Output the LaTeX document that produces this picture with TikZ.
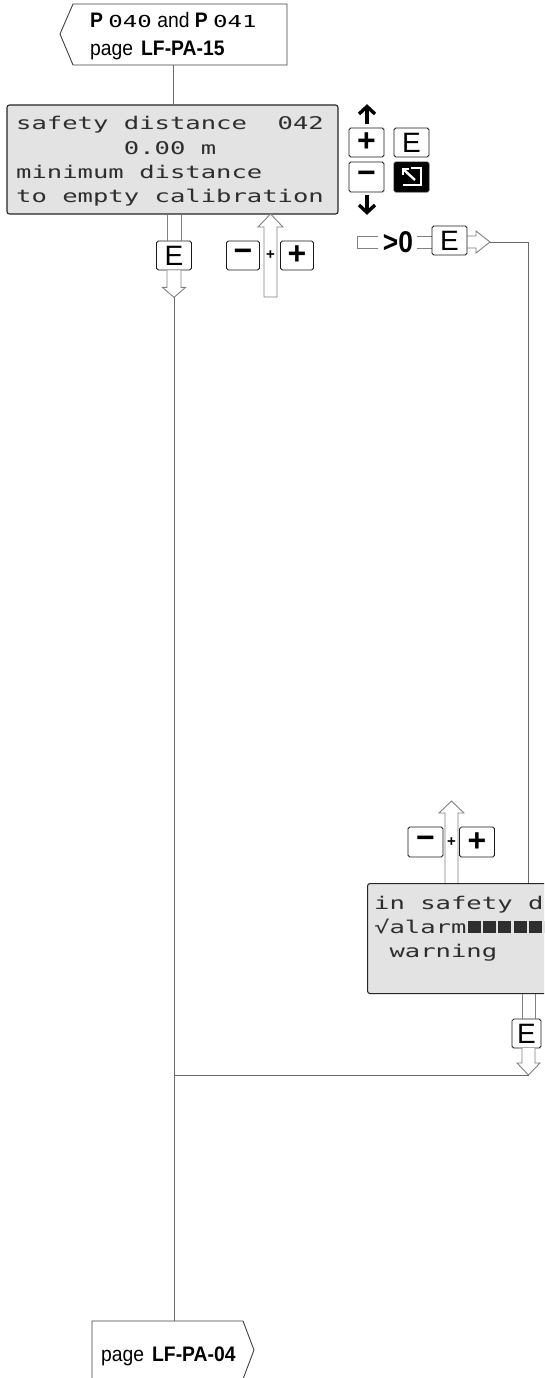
\documentclass[tikz,border=0pt]{standalone}
\usepackage{fontspec}
\setmainfont{Liberation Sans}
\newfontfamily\lcdfont[FakeStretch=1.46]{DejaVu Sans Mono}
\newfontfamily\condsans[FakeStretch=0.88]{Liberation Sans}
\newfontfamily\tagfont[FakeStretch=0.92]{Liberation Sans}
\usetikzlibrary{calc}
\definecolor{lcdgray}{HTML}{E3E3E3}
\definecolor{lcdtext}{HTML}{2E2E2E}
\definecolor{linegray}{HTML}{6A6A6A}
\definecolor{shaftgray}{HTML}{808080}
\begin{document}
\begin{tikzpicture}[x=1pt,y=-1pt,
 conn/.style={draw=linegray,line width=1pt},
 shaft/.style={draw=shaftgray,line width=0.9pt,fill=white,line join=miter},
 lcd/.style={draw=black!85,fill=lcdgray,rounded corners=2.5pt,line width=1.1pt,inner sep=0},
 lcdline/.style={anchor=base west,inner sep=0,text=lcdtext,font=\lcdfont\fontsize{17.5}{20}\selectfont},
 key/.style={draw=black!90,fill=white,rounded corners=1.8pt,line width=0.8pt,inner sep=0},
 tagbox/.style={draw=black!75,line width=0.9pt,fill=white},
 tagtext/.style={anchor=base west,inner sep=0,font=\tagfont\fontsize{21}{22}\selectfont},
 keysym/.style={font=\bfseries\fontsize{32}{32}\selectfont},
 keyE/.style={font=\fontsize{28}{28}\selectfont},
 smallplus/.style={inner sep=0,font=\bfseries\fontsize{15}{15}\selectfont},
 kbarrow/.style={line width=3.4pt,line join=miter},
]
\useasboundingbox (0,0) rectangle (544,1378);
\begin{scope}
\clip (0,0) rectangle (544,1378);

% ---------- top tag ----------
\draw[tagbox] (73,4) -- (287,4) -- (287,65) -- (73,65) -- (60,34) -- cycle;
\node[tagtext] (tagA1) at (90,28) {\textbf{P}~{\lcdfont\fontsize{16.5}{16}\selectfont 040}~and~\textbf{P}~{\lcdfont\fontsize{16.5}{16}\selectfont 041}};
\node[tagtext] (tagA2) at (90,56) {page\hspace{8pt}\textbf{LF-PA-15}};
\coordinate (tagAb) at (173.5,65);

% ---------- LCD A ----------
\node[lcd, minimum width=331, minimum height=109] (lcdA) at (172.5,159.5) {};
\node[lcdline] (lA1) at (16,130) {safety~distance~~042};
\node[lcdline] (lA2) at (16,154) {~~~~~~~0.00~m};
\node[lcdline] (lA3) at (16,178) {minimum~distance};
\node[lcdline] (lA4) at (16,202) {to~empty~calibration};
\draw[conn] (tagAb) -- (tagAb |- lcdA.north);

% ---------- keypad ----------
\node[key, minimum width=35, minimum height=29] (kplus) at (366.5,142.5) {};
\node[keysym] (kplusS) at (kplus.center) {+};
\node[key, minimum width=35, minimum height=30] (kminus) at (366.5,177) {};
\node[keysym] (kminusS) at (kminus.center) {−};
\node[key, minimum width=35, minimum height=29, keyE] (kE) at (411.5,142.5) {E};
\node[key, fill=black, minimum width=35, minimum height=30] (kesc) at (411.5,177) {};
\draw[white, line width=2.4pt, line join=miter] (411,168) -- (421,168) -- (421,185) -- (403,185);
\draw[white, line width=2.4pt] (415,180) -- (403,169);
\draw[white, line width=2.4pt, line join=miter] (409,169) -- (403,169) -- (403,175);
\draw[kbarrow] (367,124) -- (367,107);
\draw[kbarrow] (359,114) -- (367,106.5) -- (375,114);
\draw[kbarrow] (367,195) -- (367,212);
\draw[kbarrow] (359,205) -- (367,212.5) -- (375,205);

% ---------- E key under LCD A ----------
\node[key, minimum width=35, minimum height=29, keyE] (ekeyA) at (174,255.5) {E};
\coordinate (eAl) at ($(ekeyA.north)+(-7,0)$);
\coordinate (eAr) at ($(ekeyA.north)+(7,0)$);
\draw[shaft] (eAl) -- (eAl |- lcdA.south);
\draw[shaft] (eAr) -- (eAr |- lcdA.south);
\coordinate (tipA) at ($(ekeyA.south)+(0,27)$);
\draw[shaft] ($(ekeyA.south)+(-7,0)$) -- ++(0,17) -- ++(-4.5,0) -- (tipA) -- ($(ekeyA.south)+(11.5,17)$) -- ++(-4.5,0) -- ($(ekeyA.south)+(7,0)$);

% ---------- -/+ keys under LCD A ----------
\draw[shaft] (264,297) -- (264,227) -- (258,227) -- (270.5,214) -- (283,227) -- (277,227) -- (277,297) -- cycle;
\node[key, minimum width=33, minimum height=29] (mA) at (243,255.5) {};
\node[keysym] (mAS) at (mA.center) {−};
\node[key, minimum width=33, minimum height=29] (pA) at (297,255.5) {};
\node[keysym] (pAS) at (pA.center) {+};
\node[smallplus] (plA) at (270.5,255.5) {+};

% ---------- >0 E branch ----------
\draw[shaft, fill=none] (378,236) -- (357,236) -- (357,248) -- (378,248);
\node[inner sep=0, font=\condsans\bfseries\fontsize{30}{30}\selectfont] (gt) at (398,242) {>0};
\draw[shaft] (417,236) -- (432,236);
\draw[shaft] (417,248) -- (432,248);
\coordinate (tipC) at (490,242);
\draw[shaft] (467,236) -- (476,236) -- (476,231) -- (tipC) -- (476,253) -- (476,248) -- (467,248);
\node[key, minimum width=35, minimum height=29, keyE] (ekeyB) at (449.5,240.5) {E};

% ---------- -/+ keys above LCD B ----------
\draw[shaft] (445,884) -- (445,813) -- (439,813) -- (451.5,801) -- (464,813) -- (458,813) -- (458,884);
\node[key, minimum width=35, minimum height=30] (mB) at (425.5,842) {};
\node[keysym] (mBS) at (mB.center) {−};
\node[key, minimum width=35, minimum height=30] (pB) at (477,842) {};
\node[keysym] (pBS) at (pB.center) {+};
\node[smallplus] (plB) at (451.5,842) {+};

% ---------- LCD B ----------
\node[lcd, minimum width=230, minimum height=110, anchor=north west] (lcdB) at (367,883) {};
\node[lcdline] (lB1) at (374,909) {in~safety~d};
\node[lcdline] (lB2) at (374,933) {√alarm};
\foreach \i in {0,...,6} {
  \fill[lcdtext] (467.5+\i*15.38,920.5) rectangle ++(13,12.5);
}
\node[lcdline] (lB3) at (374,957) {~warning};
\coordinate (bIn) at (528,0);
\draw[conn] (tipC) -| (bIn |- lcdB.north);

% ---------- E key under LCD B ----------
\node[key, minimum width=29, minimum height=29, keyE] (ekeyC) at (526.5,1033.5) {E};
\coordinate (eCl) at (522,1019);
\coordinate (eCr) at (535,1019);
\draw[shaft] (eCl) -- (eCl |- lcdB.south);
\draw[shaft] (eCr) -- (eCr |- lcdB.south);
\coordinate (tipB) at (528.5,1075);
\draw[shaft] (522,1048) -- (522,1063) -- (517,1063) -- (tipB) -- (540,1063) -- (535,1063) -- (535,1048);

% ---------- main line and join ----------
\coordinate (tagBt) at (174,1321);
\draw[conn] (tipA) -- (tagBt);
\coordinate (jn) at (tipA |- tipB);
\draw[conn] (jn) -- (tipB);

% ---------- bottom tag ----------
\draw[tagbox] (92,1380) -- (92,1321) -- (243,1321) -- (254,1350) -- (243,1379);
\node[tagtext] (tagB1) at (101,1361) {page\hspace{8pt}\textbf{LF-PA-04}};
\end{scope}
\end{tikzpicture}
\end{document}
